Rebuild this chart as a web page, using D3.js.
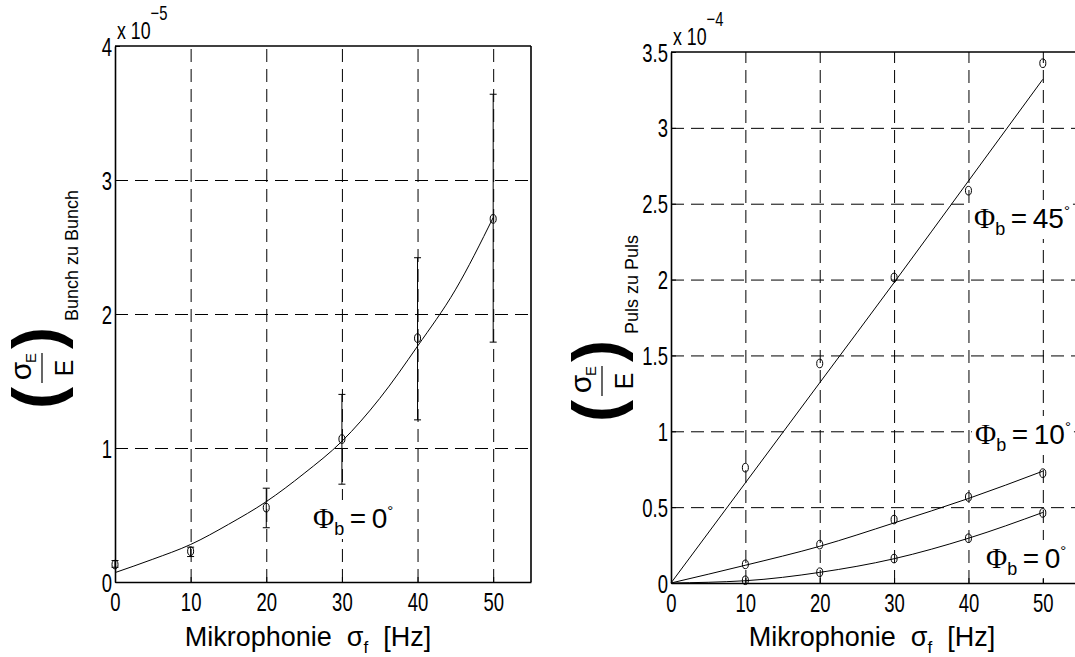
<!DOCTYPE html>
<html>
<head>
<meta charset="utf-8">
<script src="https://cdn.jsdelivr.net/npm/d3@7"></script>
<style>
body { margin: 0; background: #fff; }
text { font-family: "Liberation Sans", Arial, sans-serif; fill: #000; }
</style>
</head>
<body>
<div id="chart"></div>
<script>
// Mikrophonie sigma_f [Hz] of the measured points
var sigmaF = [0, 10, 20, 30, 40, 50];
var sigmaFRight = [10, 20, 30, 40, 50];

// left plot: bunch to bunch (x 1e-5)
var bunchMean = [0.13, 0.23, 0.555, 1.067, 1.82, 2.71];
var bunchLow  = [0.11, 0.19, 0.405, 0.73, 1.21, 1.79];
var bunchHigh = [0.16, 0.26, 0.70, 1.40, 2.42, 3.64];
// fit curve
var bunchFitX = [0, 5, 10, 15, 20, 25, 30, 35, 40, 45, 50];
var bunchFit  = [0.07, 0.17, 0.28, 0.43, 0.60, 0.81, 1.05, 1.37, 1.76, 2.18, 2.72];

// right plot: puls to puls (x 1e-4)
var puls45 = [0.76, 1.447, 2.014, 2.586, 3.426];
var puls10 = [0.123, 0.253, 0.418, 0.567, 0.724];
var puls0  = [0.018, 0.071, 0.161, 0.295, 0.462];
var fit45 = [0, 0.66, 1.32, 1.98, 2.65, 3.32];
var fit10 = [0, 0.117, 0.242, 0.396, 0.557, 0.737];
var fit0  = [0, 0.015, 0.07, 0.16, 0.295, 0.465];

var xTicks = [0, 10, 20, 30, 40, 50];
var yTicksLeft = [0, 1, 2, 3, 4];
var yTicksRight = [0, 0.5, 1, 1.5, 2, 2.5, 3, 3.5];

var svg = d3.select("#chart").append("svg")
    .attr("width", 1075).attr("height", 657);

var tickScale = 0.74;

function drawPanel(p) {
    var x = d3.scaleLinear().domain([0, 55]).range([p.left, p.right]);
    var y = d3.scaleLinear().domain([0, p.ymax]).range([p.bottom, p.top]);
    var g = svg.append("g");

    // dashed grid
    g.append("g").attr("transform", "translate(0," + p.bottom + ")")
        .call(d3.axisBottom(x).tickValues(xTicks.slice(1)).tickSize(-(p.bottom - p.top)).tickFormat(""))
        .call(function (s) { s.select(".domain").remove(); })
        .selectAll("line").attr("stroke", "#000").attr("stroke-dasharray", "13,7");
    g.append("g").attr("transform", "translate(" + p.left + ",0)")
        .call(d3.axisLeft(y).tickValues(p.yTicks.slice(1, -1)).tickSize(-(p.right - p.left)).tickFormat(""))
        .call(function (s) { s.select(".domain").remove(); })
        .selectAll("line").attr("stroke", "#000").attr("stroke-dasharray", "13,7");

    var boxLayer = g.append("g");
    var labelLayer = g.append("g");

    // phi labels with white box behind
    p.labels.forEach(function (l) {
        var t = labelLayer.append("text").attr("x", l.x).attr("y", l.y).attr("font-size", 28);
        t.append("tspan").attr("font-family", "Liberation Serif, serif").attr("font-size", 29).text("\u03A6");
        t.append("tspan").attr("font-size", 18).attr("dy", 7).text("b");
        t.append("tspan").attr("dy", -7).text("\u2009=\u2009" + l.deg);
        t.append("tspan").attr("font-size", 15).attr("dy", -12).text("\u00B0");
        var b = t.node().getBBox();
        boxLayer.append("rect").attr("x", b.x - 3).attr("y", b.y - 2)
            .attr("width", b.width + 6).attr("height", b.height + 2).attr("fill", "#fff");
    });

    // axes
    var xa = g.append("g").attr("transform", "translate(0," + p.bottom + ")")
        .call(d3.axisBottom(x).tickValues(xTicks).tickSizeInner(-5).tickSizeOuter(0).tickPadding(11).tickFormat(d3.format("d")));
    var ya = g.append("g").attr("transform", "translate(" + p.left + ",0)")
        .call(d3.axisLeft(y).tickValues(p.yTicks).tickSizeInner(-5).tickSizeOuter(0).tickFormat(function (d) { return String(d); }));
    [xa, ya].forEach(function (a) {
        a.attr("font-family", "Liberation Sans, Arial, sans-serif").attr("font-size", 25);
        a.select(".domain").attr("stroke-width", 1.6);
        a.selectAll(".tick line").attr("stroke-width", 1);
        a.selectAll("text").attr("transform", "scale(" + tickScale + ",1)");
    });
    ya.selectAll("text").attr("x", -3 / tickScale).attr("dy", "0.36em");

    // top and right borders
    g.append("line").attr("x1", p.left).attr("x2", p.right).attr("y1", p.top).attr("y2", p.top)
        .attr("stroke", "#000").attr("stroke-width", 1.6);
    g.append("line").attr("x1", p.right).attr("x2", p.right).attr("y1", p.top).attr("y2", p.bottom)
        .attr("stroke", "#000").attr("stroke-width", 1.6);

    // exponent
    var e = g.append("text").attr("y", p.top - 7).attr("font-size", 24)
        .attr("transform", "translate(" + (p.left + 2) * (1 - tickScale) + ",0) scale(" + tickScale + ",1)");
    e.attr("x", (p.left + 2)).text("x 10");
    e.append("tspan").attr("font-size", 20).attr("dy", -19).text(p.expo);

    // x label
    var xl = g.append("text").attr("x", p.xlabelX).attr("y", 646).attr("text-anchor", "middle")
        .attr("font-size", 27).attr("xml:space", "preserve").style("white-space", "pre");
    xl.append("tspan").text("Mikrophonie  \u03C3");
    xl.append("tspan").attr("font-size", 17).attr("dy", 7).text("f");
    xl.append("tspan").attr("dy", -7).text("  [Hz]");

    // y label: ( sigma_E / E )_sub  rotated
    var yl = g.append("g").attr("transform", "translate(" + p.ylabX + "," + p.ylabY + ") rotate(-90)");
    yl.append("text").attr("x", -30).attr("y", 17).attr("text-anchor", "middle").attr("font-size", 66).attr("font-weight", "bold").text("(");
    yl.append("text").attr("x", 30).attr("y", 17).attr("text-anchor", "middle").attr("font-size", 66).attr("font-weight", "bold").text(")");
    yl.append("line").attr("x1", -15).attr("x2", 15).attr("y1", 0).attr("y2", 0).attr("stroke", "#000").attr("stroke-width", 1.2);
    yl.append("text").attr("x", -3).attr("y", -11).attr("text-anchor", "middle").attr("font-size", 30).text("\u03C3");
    yl.append("text").attr("x", 10).attr("y", -6).attr("text-anchor", "middle").attr("font-size", 15).text("E");
    yl.append("text").attr("x", 0).attr("y", 31).attr("text-anchor", "middle").attr("font-size", 25).text("E");
    yl.append("text").attr("x", 47).attr("y", 36).attr("font-size", 18).text(p.ysub);

    return { g: g, x: x, y: y };
}

function drawSeries(panel, fx, fy, px, py) {
    var line = d3.line().curve(d3.curveMonotoneX)
        .x(function (d, i) { return panel.x(fx[i]); })
        .y(function (d) { return panel.y(d); });
    panel.g.append("path").datum(fy).attr("d", line)
        .attr("fill", "none").attr("stroke", "#000").attr("stroke-width", 1);
    panel.g.selectAll(null).data(py).enter().append("ellipse")
        .attr("cx", function (d, i) { return panel.x(px[i]); })
        .attr("cy", function (d) { return panel.y(d); })
        .attr("rx", 3).attr("ry", 4.3)
        .attr("fill", "none").attr("stroke", "#000").attr("stroke-width", 1);
}

var leftP = drawPanel({
    left: 115, right: 531, top: 46, bottom: 582, ymax: 4, yTicks: yTicksLeft,
    expo: "\u22125", xlabelX: 308, ylabX: 42, ylabY: 368, ysub: "Bunch zu Bunch",
    labels: [{ x: 313, y: 528, deg: "0" }]
});

var rightP = drawPanel({
    left: 671, right: 1080, top: 52, bottom: 583, ymax: 3.5, yTicks: yTicksRight,
    expo: "\u22124", xlabelX: 872, ylabX: 602, ylabY: 381, ysub: "Puls zu Puls",
    labels: [
        { x: 974, y: 228, deg: "45" },
        { x: 975, y: 444, deg: "10" },
        { x: 986, y: 568, deg: "0" }
    ]
});

// error bars on the left plot
var eb = leftP.g.append("g").attr("stroke", "#000").attr("stroke-width", 1);
sigmaF.forEach(function (s, i) {
    var cx = leftP.x(s);
    eb.append("line").attr("x1", cx).attr("x2", cx).attr("y1", leftP.y(bunchLow[i])).attr("y2", leftP.y(bunchHigh[i]));
    eb.append("line").attr("x1", cx - 3.5).attr("x2", cx + 3.5).attr("y1", leftP.y(bunchLow[i])).attr("y2", leftP.y(bunchLow[i]));
    eb.append("line").attr("x1", cx - 3.5).attr("x2", cx + 3.5).attr("y1", leftP.y(bunchHigh[i])).attr("y2", leftP.y(bunchHigh[i]));
});
drawSeries(leftP, bunchFitX, bunchFit, sigmaF, bunchMean);

drawSeries(rightP, sigmaF, fit45, sigmaFRight, puls45);
drawSeries(rightP, sigmaF, fit10, sigmaFRight, puls10);
drawSeries(rightP, sigmaF, fit0, sigmaFRight, puls0);
</script>
</body>
</html>
